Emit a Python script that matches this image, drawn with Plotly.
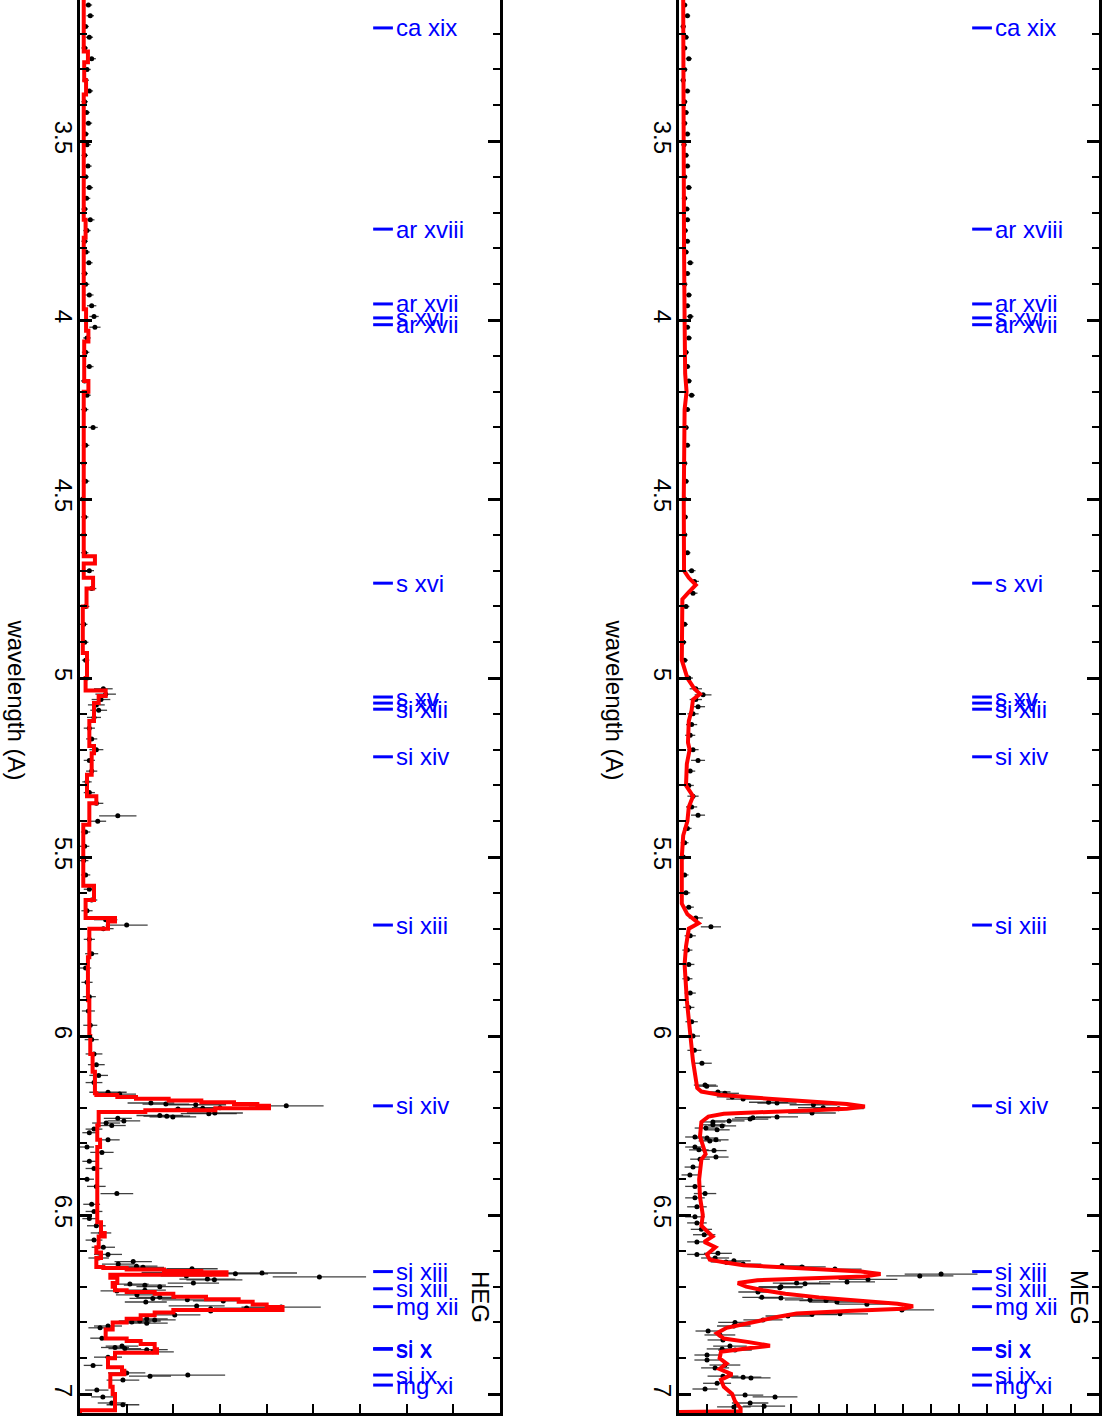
import plotly.graph_objects as go

# ---------------- data ----------------
# HEG observed points (wavelength A, flux, error)
heg_wl = [3.12, 3.15, 3.18, 3.21, 3.24, 3.27, 3.30, 3.33, 3.36, 3.39, 3.42, 3.45, 3.48, 3.51, 3.54, 3.57,
          3.60, 3.63, 3.66, 3.69, 3.72, 3.75, 3.78, 3.81, 3.84, 3.87, 3.90, 3.93, 3.96, 3.99, 4.02, 4.05,
          4.09, 4.13, 4.17, 4.21, 4.25, 4.30, 4.35, 4.40, 4.45, 4.50, 4.55, 4.60, 4.65, 4.70, 4.75, 4.80,
          4.85, 4.90, 4.95, 5.00, 5.03, 5.045, 5.06, 5.075, 5.09, 5.11, 5.14, 5.17, 5.20, 5.23, 5.26, 5.29,
          5.32, 5.35, 5.385, 5.40, 5.43, 5.47, 5.51, 5.55, 5.59, 5.62, 5.65, 5.675, 5.69, 5.70, 5.73, 5.77,
          5.81, 5.85, 5.89, 5.93, 5.97, 6.01, 6.05, 6.08, 6.11, 6.13,
          6.157, 6.162, 6.187, 6.190, 6.192, 6.195, 6.200, 6.202, 6.204, 6.215, 6.217, 6.222, 6.224, 6.226,
          6.230, 6.237, 6.243, 6.250, 6.26, 6.27, 6.29, 6.31, 6.325, 6.35, 6.37, 6.40, 6.42, 6.44, 6.47,
          6.49, 6.51, 6.53, 6.55, 6.57, 6.59, 6.61, 6.62,
          6.630, 6.637, 6.643, 6.646, 6.650, 6.660, 6.662, 6.664, 6.670, 6.673, 6.679, 6.681, 6.690, 6.693,
          6.696, 6.700, 6.710, 6.712, 6.723, 6.730, 6.733, 6.737, 6.740, 6.743, 6.754, 6.757, 6.760, 6.762,
          6.768, 6.779, 6.790, 6.793, 6.796, 6.799, 6.802, 6.810, 6.815, 6.844, 6.866, 6.870, 6.873, 6.876,
          6.882, 6.897, 6.920, 6.941, 6.947, 6.950, 6.961, 6.989, 7.008, 7.025, 7.030]
heg_flux = [0.18, 0.22, 0.12, 0.20, 0.10, 0.25, 0.15, 0.12, 0.20, 0.10, 0.14, 0.18, 0.12, 0.15, 0.10, 0.17,
            0.12, 0.20, 0.14, 0.10, 0.22, 0.15, 0.10, 0.13, 0.19, 0.10, 0.12, 0.20, 0.25, 0.30, 0.32, 0.15,
            0.12, 0.20, 0.10, 0.15, 0.10, 0.28, 0.12, 0.08, 0.12, 0.06, 0.10, 0.08, 0.10, 0.20, 0.25, 0.12,
            0.08, 0.10, 0.12, 0.15, 0.50, 0.55, 0.45, 0.35, 0.40, 0.30, 0.20, 0.25, 0.35, 0.20, 0.25, 0.15,
            0.20, 0.35, 0.81, 0.38, 0.12, 0.10, 0.08, 0.12, 0.20, 0.25, 0.15, 0.55, 1.00, 0.50, 0.20, 0.25,
            0.12, 0.15, 0.20, 0.18, 0.22, 0.25, 0.30, 0.35, 0.40, 0.30,
            0.60, 0.85, 1.52, 1.84, 2.48, 4.42, 3.00, 2.63, 2.10, 2.89, 2.76, 1.71, 1.86, 1.99,
            0.81, 0.94, 0.56, 0.68, 0.30, 0.20, 0.60, 0.15, 0.47, 0.20, 0.30, 0.15, 0.35, 0.79, 0.25,
            0.30, 0.20, 0.35, 0.45, 0.30, 0.50, 0.60, 0.40,
            1.14, 0.82, 1.21, 1.35, 2.40, 1.82, 3.90, 3.33, 2.28, 5.13, 2.73, 2.88, 2.43, 1.07,
            1.39, 1.71, 1.39, 0.79, 1.22, 1.71, 1.56, 2.30, 3.07, 1.41, 2.50, 4.31, 3.57, 2.80,
            2.80, 2.03, 1.43, 1.60, 1.28, 1.11, 1.43, 0.60, 0.43, 0.47, 0.90, 0.75, 0.96, 1.43,
            1.56, 0.60, 0.28, 1.00, 2.31, 1.50, 0.92, 0.36, 0.49, 0.68, 0.92]
heg_err = [0.08, 0.08, 0.07, 0.08, 0.07, 0.09, 0.08, 0.07, 0.08, 0.07, 0.07, 0.08, 0.07, 0.08, 0.07, 0.08,
           0.07, 0.08, 0.08, 0.07, 0.09, 0.08, 0.07, 0.08, 0.08, 0.07, 0.08, 0.09, 0.10, 0.10, 0.12, 0.08,
           0.08, 0.09, 0.08, 0.08, 0.08, 0.10, 0.08, 0.07, 0.08, 0.07, 0.08, 0.07, 0.08, 0.10, 0.10, 0.08,
           0.08, 0.08, 0.08, 0.10, 0.20, 0.22, 0.20, 0.18, 0.18, 0.15, 0.12, 0.12, 0.15, 0.12, 0.12, 0.10,
           0.12, 0.15, 0.40, 0.18, 0.10, 0.10, 0.10, 0.10, 0.12, 0.12, 0.12, 0.25, 0.45, 0.22, 0.12, 0.14,
           0.12, 0.12, 0.14, 0.14, 0.15, 0.15, 0.18, 0.18, 0.20, 0.18,
           0.40, 0.35, 0.50, 0.50, 0.65, 0.80, 0.60, 0.60, 0.55, 0.60, 0.60, 0.50, 0.50, 0.50,
           0.30, 0.35, 0.30, 0.30, 0.18, 0.15, 0.25, 0.15, 0.25, 0.15, 0.18, 0.15, 0.20, 0.35, 0.18,
           0.18, 0.15, 0.20, 0.22, 0.18, 0.25, 0.30, 0.22,
           0.40, 0.35, 0.45, 0.45, 0.55, 0.50, 0.75, 0.70, 0.55, 1.00, 0.60, 0.60, 0.55, 0.40,
           0.45, 0.50, 0.45, 0.35, 0.45, 0.50, 0.50, 0.55, 0.65, 0.45, 0.60, 0.85, 0.70, 0.60,
           0.60, 0.55, 0.45, 0.45, 0.45, 0.40, 0.45, 0.30, 0.25, 0.25, 0.35, 0.30, 0.35, 0.45,
           0.45, 0.30, 0.20, 0.40, 0.80, 0.45, 0.35, 0.25, 0.25, 0.30, 0.35]

# HEG model (stepped)
heg_model_wl = [3.106, 3.25, 3.28, 3.33, 3.37, 3.72, 3.77, 3.97, 4.03, 4.06, 4.17, 4.20, 4.66, 4.68, 4.72,
                4.75, 4.80, 4.93, 5.00, 5.035, 5.05, 5.07, 5.12, 5.19, 5.21, 5.27, 5.33, 5.35, 5.41, 5.58,
                5.62, 5.67, 5.68, 5.70, 5.78, 5.90, 6.00, 6.05, 6.10, 6.16, 6.165, 6.170, 6.175, 6.180,
                6.185, 6.190, 6.195, 6.202, 6.207, 6.212, 6.25, 6.29, 6.31, 6.52, 6.55, 6.56, 6.59, 6.605,
                6.62, 6.645, 6.648, 6.652, 6.656, 6.660, 6.667, 6.675, 6.69, 6.70, 6.71, 6.715, 6.72,
                6.728, 6.735, 6.742, 6.75, 6.757, 6.765, 6.772, 6.78, 6.79, 6.80, 6.82, 6.845, 6.852,
                6.86, 6.875, 6.885, 6.90, 6.925, 6.935, 6.945, 6.98, 7.00, 7.045, 7.053]
heg_model_flux = [0.08, 0.17, 0.09, 0.13, 0.08, 0.12, 0.08, 0.13, 0.18, 0.09, 0.18, 0.08, 0.32, 0.08, 0.28,
                  0.14, 0.06, 0.15, 0.12, 0.55, 0.40, 0.30, 0.20, 0.30, 0.25, 0.15, 0.35, 0.20, 0.07, 0.30,
                  0.12, 0.75, 0.60, 0.20, 0.17, 0.20, 0.22, 0.27, 0.32, 0.35, 0.80, 1.20, 1.90, 2.60,
                  3.30, 3.80, 4.05, 2.90, 1.40, 0.40, 0.37, 0.43, 0.37, 0.45, 0.53, 0.40, 0.35, 0.45,
                  0.35, 0.50, 1.00, 1.80, 2.60, 3.14, 0.65, 0.80, 0.70, 0.75, 1.00, 1.60, 2.00,
                  2.70, 3.40, 3.70, 4.00, 4.34, 2.00, 1.60, 1.30, 1.00, 0.70, 0.55, 1.00, 1.30,
                  1.60, 1.65, 0.75, 0.60, 0.90, 0.95, 0.65, 0.70, 0.75, 0.00, 0.00]

# MEG observed points
meg_wl = [3.12, 3.15, 3.18, 3.21, 3.24, 3.27, 3.30, 3.33, 3.36, 3.39, 3.42, 3.45, 3.48, 3.51, 3.54, 3.57,
          3.60, 3.63, 3.66, 3.69, 3.72, 3.75, 3.78, 3.81, 3.84, 3.87, 3.90, 3.93, 3.96, 3.99, 4.02, 4.05,
          4.09, 4.13, 4.17, 4.21, 4.25, 4.30, 4.35, 4.40, 4.45, 4.50, 4.55, 4.60, 4.65, 4.70, 4.73, 4.763,
          4.80, 4.85, 4.90, 4.95, 5.00, 5.03, 5.047, 5.06, 5.08, 5.10, 5.13, 5.16, 5.20, 5.23, 5.26, 5.30,
          5.33, 5.36, 5.383, 5.42, 5.46, 5.50, 5.55, 5.60, 5.64, 5.67, 5.695, 5.72, 5.76, 5.80, 5.84, 5.88,
          5.92, 5.96, 6.00, 6.04, 6.076, 6.137, 6.140,
          6.156, 6.160, 6.170, 6.176, 6.185, 6.187, 6.192, 6.200, 6.203, 6.215, 6.226, 6.228, 6.232, 6.237,
          6.240, 6.248, 6.251, 6.257, 6.262, 6.282, 6.285, 6.290, 6.293, 6.310, 6.318, 6.320, 6.338, 6.344,
          6.366, 6.388, 6.420, 6.440, 6.452, 6.477, 6.505, 6.522, 6.540, 6.555,
          6.575, 6.610, 6.607, 6.620, 6.631, 6.628, 6.637, 6.642, 6.645, 6.651, 6.670, 6.665, 6.687, 6.680,
          6.690, 6.692, 6.700, 6.703, 6.715, 6.730, 6.732, 6.737, 6.739, 6.743, 6.749, 6.765, 6.776, 6.778,
          6.782, 6.793, 6.800, 6.810, 6.824, 6.835, 6.849, 6.866, 6.877, 6.874, 6.891, 6.905, 6.927, 6.919,
          6.953, 6.955, 6.950, 6.986, 6.970, 7.003, 7.008, 7.025, 7.034, 7.036]
meg_flux = [0.20, 0.30, 0.15, 0.25, 0.20, 0.35, 0.20, 0.15, 0.30, 0.20, 0.25, 0.20, 0.30, 0.18, 0.25, 0.30,
            0.20, 0.35, 0.20, 0.28, 0.30, 0.22, 0.30, 0.25, 0.40, 0.30, 0.20, 0.35, 0.30, 0.40, 0.30, 0.35,
            0.25, 0.30, 0.35, 0.45, 0.30, 0.25, 0.30, 0.20, 0.25, 0.20, 0.22, 0.20, 0.30, 0.45, 0.55, 0.50,
            0.25, 0.20, 0.15, 0.20, 0.35, 0.60, 0.86, 0.60, 0.68, 0.50, 0.45, 0.40, 0.50, 0.68, 0.40, 0.35,
            0.50, 0.45, 0.68, 0.30, 0.20, 0.15, 0.20, 0.25, 0.35, 0.60, 1.14, 0.40, 0.30, 0.35, 0.30, 0.40,
            0.35, 0.45, 0.50, 0.55, 0.82, 0.93, 0.99,
            1.39, 1.64, 1.90, 2.29, 3.20, 3.50, 4.80, 5.15, 5.70, 4.75, 3.50, 2.64, 2.54, 1.79,
            1.21, 1.21, 1.54, 0.96, 1.36, 0.57, 1.00, 1.32, 1.10, 0.57, 0.71, 1.25, 1.32, 0.75,
            0.50, 0.39, 0.57, 0.93, 0.57, 0.64, 0.57, 0.64, 0.80, 0.90,
            0.64, 0.64, 1.39, 1.29, 1.68, 1.96, 2.29, 3.68, 4.39, 5.57, 8.60, 9.36, 6.00, 6.75,
            4.20, 4.50, 3.64, 3.60, 2.82, 2.96, 3.64, 4.68, 5.25, 5.64, 6.71, 7.96, 5.75, 4.75,
            3.89, 3.00, 2.00, 1.96, 1.04, 1.46, 1.57, 1.82, 2.00, 1.54, 1.00, 1.00, 1.29, 1.64,
            2.29, 2.57, 1.57, 0.93, 1.36, 2.36, 3.43, 2.54, 3.04, 1.96]
meg_err = [0.10, 0.10, 0.09, 0.10, 0.10, 0.11, 0.10, 0.09, 0.10, 0.10, 0.10, 0.10, 0.10, 0.09, 0.10, 0.10,
           0.10, 0.11, 0.10, 0.10, 0.10, 0.10, 0.10, 0.10, 0.12, 0.10, 0.10, 0.11, 0.10, 0.12, 0.10, 0.11,
           0.10, 0.10, 0.11, 0.12, 0.10, 0.10, 0.10, 0.10, 0.10, 0.10, 0.10, 0.10, 0.11, 0.14, 0.16, 0.16,
           0.12, 0.12, 0.11, 0.12, 0.15, 0.22, 0.30, 0.22, 0.25, 0.20, 0.20, 0.18, 0.20, 0.25, 0.18, 0.18,
           0.20, 0.20, 0.25, 0.15, 0.14, 0.12, 0.14, 0.15, 0.18, 0.25, 0.36, 0.20, 0.18, 0.20, 0.18, 0.20,
           0.20, 0.22, 0.25, 0.25, 0.35, 0.40, 0.40,
           0.45, 0.50, 0.55, 0.60, 0.70, 0.70, 0.85, 0.90, 0.90, 0.85, 0.75, 0.65, 0.65, 0.55,
           0.45, 0.45, 0.50, 0.40, 0.45, 0.35, 0.40, 0.45, 0.40, 0.35, 0.35, 0.45, 0.45, 0.35,
           0.30, 0.30, 0.35, 0.40, 0.35, 0.35, 0.35, 0.35, 0.38, 0.40,
           0.35, 0.35, 0.50, 0.50, 0.55, 0.60, 0.65, 0.80, 0.85, 0.95, 1.20, 1.30, 1.00, 1.05,
           0.85, 0.90, 0.80, 0.80, 0.70, 0.70, 0.80, 0.90, 0.95, 1.00, 1.05, 1.15, 1.00, 0.90,
           0.80, 0.70, 0.60, 0.60, 0.45, 0.55, 0.55, 0.60, 0.60, 0.55, 0.45, 0.45, 0.50, 0.55,
           0.65, 0.70, 0.55, 0.45, 0.50, 0.65, 0.80, 0.65, 0.75, 0.60]

# MEG model (smooth)
meg_model_wl = [3.106, 3.30, 3.50, 3.80, 4.00, 4.15, 4.20, 4.25, 4.50, 4.70, 4.72, 4.74, 4.76, 4.78, 4.95,
                5.00, 5.03, 5.045, 5.06, 5.09, 5.12, 5.18, 5.20, 5.24, 5.30, 5.33, 5.36, 5.40, 5.44, 5.50,
                5.63, 5.66, 5.685, 5.70, 5.75, 5.80, 5.90, 6.00, 6.07, 6.12, 6.145, 6.155, 6.165, 6.175,
                6.185, 6.190, 6.197, 6.203, 6.207, 6.212, 6.217, 6.225, 6.24, 6.28, 6.31, 6.33, 6.345,
                6.40, 6.45, 6.50, 6.53, 6.56, 6.575, 6.59, 6.61, 6.625, 6.632, 6.64, 6.645, 6.652, 6.658,
                6.665, 6.672, 6.677, 6.682, 6.69, 6.70, 6.71, 6.72, 6.73, 6.74, 6.748, 6.755, 6.762, 6.768,
                6.775, 6.785, 6.80, 6.815, 6.83, 6.845, 6.855, 6.865, 6.873, 6.882, 6.90, 6.915, 6.93,
                6.945, 6.96, 6.98, 7.00, 7.02, 7.04, 7.048, 7.05]
meg_model_flux = [0.15, 0.15, 0.17, 0.18, 0.20, 0.22, 0.27, 0.20, 0.17, 0.18, 0.35, 0.60, 0.35, 0.12, 0.10,
                  0.30, 0.55, 0.75, 0.50, 0.45, 0.35, 0.32, 0.38, 0.28, 0.25, 0.50, 0.35, 0.30, 0.15, 0.10,
                  0.10, 0.30, 0.70, 0.35, 0.25, 0.20, 0.28, 0.40, 0.50, 0.60, 0.65, 0.80, 1.50, 3.20,
                  4.80, 6.00, 6.64, 6.00, 4.80, 3.00, 1.60, 1.05, 0.80, 0.75, 0.85, 0.95, 0.80,
                  0.72, 0.75, 0.85, 0.80, 1.20, 0.90, 1.30, 1.00, 1.10, 1.60, 2.30, 3.50, 5.00, 6.50,
                  7.20, 6.60, 4.50, 2.80, 2.10, 2.40, 3.00, 3.80, 5.00, 6.50, 7.80, 8.36, 8.00, 6.00,
                  4.20, 3.50, 2.60, 1.70, 1.35, 1.60, 2.50, 3.25, 2.40, 1.50, 1.45, 1.70, 1.45,
                  1.90, 1.50, 1.60, 1.90, 2.00, 2.20, 2.20, 0.00]

# line identifications
line_wl = [3.184, 3.746, 3.955, 3.994, 4.013, 4.735, 5.053, 5.070, 5.087, 5.220, 5.690, 6.195,
           6.658, 6.706, 6.756, 6.873, 6.875, 6.947, 6.975]
line_names = ["ca xix", "ar xviii", "ar xvii", "s xvi", "ar xvii", "s xvi", "s xv", "s xv", "si xiii",
              "si xiv", "si xiii", "si xiv", "si xiii", "si xiii", "mg xii", "si x", "si x", "si ix", "mg xi"]

panel_names = ["HEG", "MEG"]
flux_max = [9, 15]
wl_range = [7.053, 3.106]

# ---------------- figure ----------------
FONT = "Liberation Sans, Arial, Helvetica, sans-serif"
W, H = 1103, 1423
fig = go.Figure()

panels = [
    (heg_wl, heg_flux, heg_err, heg_model_wl, heg_model_flux, "vh"),
    (meg_wl, meg_flux, meg_err, meg_model_wl, meg_model_flux, "linear"),
]
for i, (wl, fl, er, mwl, mfl, shp) in enumerate(panels):
    xa = "x" if i == 0 else "x2"
    ya = "y" if i == 0 else "y2"
    fig.add_trace(go.Scatter(
        x=fl, y=wl, mode="markers", xaxis=xa, yaxis=ya,
        marker=dict(color="black", size=5),
        error_x=dict(type="data", array=er, color="rgba(30,30,30,0.85)", thickness=1.3, width=0),
        error_y=dict(type="constant", value=0.004, color="black", thickness=1.5, width=0),
        showlegend=False, hoverinfo="skip"))
    fig.add_trace(go.Scatter(
        x=mfl, y=mwl, mode="lines", xaxis=xa, yaxis=ya,
        line=dict(color="#ff0000", width=4, shape=shp),
        showlegend=False, hoverinfo="skip"))

domains = [[80 / W, 500 / W], [679 / W, 1099 / W]]
layout = dict(
    width=W, height=H, plot_bgcolor="white", paper_bgcolor="white",
    margin=dict(l=0, r=0, t=0, b=10),
    font=dict(family=FONT, color="black", size=24),
    showlegend=False,
)
for i in range(2):
    sx = "" if i == 0 else "2"
    layout["xaxis" + sx] = dict(
        domain=domains[i], range=[0, flux_max[i]], dtick=1, tick0=0,
        showticklabels=False, ticks="inside", ticklen=9, tickwidth=2, tickcolor="black",
        showline=True, linewidth=3, linecolor="black", mirror=False,
        showgrid=False, zeroline=False, anchor="y" + sx, fixedrange=True)
    layout["yaxis" + sx] = dict(
        domain=[0, 1], range=wl_range, dtick=0.5, tick0=3.5,
        ticks="inside", ticklen=12, tickwidth=2.5, tickcolor="black",
        minor=dict(dtick=0.1, ticks="inside", ticklen=7, tickwidth=2, tickcolor="black"),
        showline=True, linewidth=3, linecolor="black", mirror="ticks",
        tickangle=90, tickfont=dict(size=24, family=FONT), ticklabelstandoff=-7,
        showgrid=False, zeroline=False, anchor="x" + sx, automargin=False, fixedrange=True)
fig.update_layout(**layout)

annotations = []
shapes = []
for i in range(2):
    sx = "" if i == 0 else "2"
    for wl, name in zip(line_wl, line_names):
        shapes.append(dict(type="line", xref="x" + sx + " domain", yref="y" + sx,
                           x0=0.698, x1=0.745, y0=wl, y1=wl,
                           line=dict(color="#0000ff", width=3)))
        annotations.append(dict(xref="x" + sx + " domain", yref="y" + sx, x=0.748, y=wl,
                                text=name, showarrow=False, xanchor="left", yanchor="middle",
                                font=dict(color="#0000ff", size=24, family=FONT)))
    annotations.append(dict(xref="x" + sx + " domain", yref="y" + sx + " domain", x=0.955, y=0.082,
                            text=panel_names[i], showarrow=False, textangle=90,
                            xanchor="center", yanchor="middle",
                            font=dict(color="black", size=24, family=FONT)))
    annotations.append(dict(xref="paper", yref="paper", x=[17 / W, 615 / W][i], y=0.505,
                            text="wavelength (A)", showarrow=False, textangle=90,
                            xanchor="center", yanchor="middle",
                            font=dict(color="black", size=24, family=FONT)))
fig.update_layout(annotations=annotations, shapes=shapes)

fig.write_html("out.html", config={"displayModeBar": False},
               post_script="document.body.style.margin='0px';document.body.style.padding='0px';"
                           "document.documentElement.style.overflow='hidden';")
